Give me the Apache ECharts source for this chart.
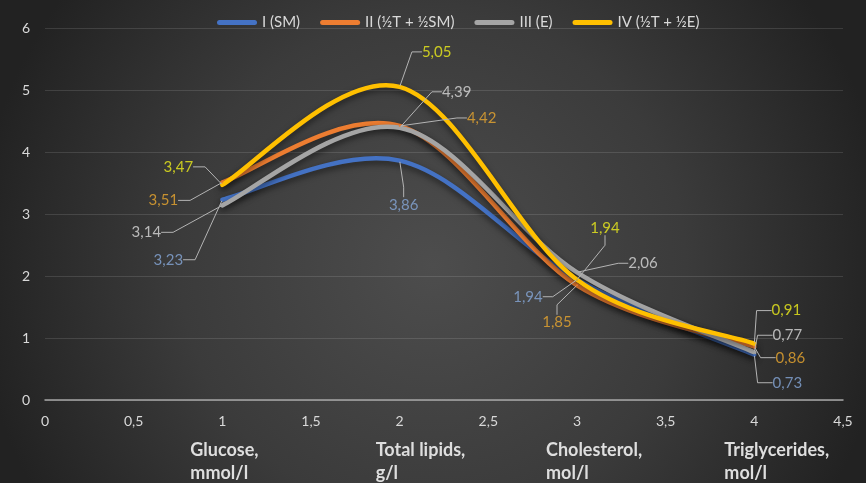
<!DOCTYPE html>
<html>
<head>
<meta charset="utf-8">
<script src="https://cdn.jsdelivr.net/npm/echarts@6/dist/echarts.min.js"></script>
<style>
  html, body { margin: 0; padding: 0; background: #2a2a2a; }
  #chart { width: 866px; height: 483px; }
</style>
</head>
<body>
<div id="chart"></div>
<script>
// Measurement points on the x axis and the indicator under each of them
const xValues = [1, 2, 3, 4];
const categoryNames = ['Glucose,\nmmol/l', 'Total lipids,\ng/l', 'Cholesterol,\nmol/l', 'Triglycerides,\nmol/l'];

// Groups
const seriesNames = ['I (SM)', 'II (½T + ½SM)', 'III (E)', 'IV (½T + ½E)'];
const valuesSM = [3.23, 3.86, 1.94, 0.73];
const valuesHalfTSM = [3.51, 4.42, 1.85, 0.86];
const valuesE = [3.14, 4.39, 2.06, 0.77];
const valuesHalfTE = [3.47, 5.05, 1.94, 0.91];

// Axis ranges
const xAxisRange = [0, 4.5];
const yAxisRange = [0, 6];

// Presentation
const lineColors = ['#4472c4', '#ed7d31', '#a5a5a5', '#ffc000'];
const labelColors = ['#86a8d8', '#eaa830', '#d9d9d9', '#eeee1c'];
const fontFamily = 'Lato, "Open Sans", sans-serif';

// Offset of each value label from its point (px): [dx, dy]
const labelOffsets = [
  [[-54, 60], [4, 44], [-49, 17], [33, 28]],
  [[-59, 18], [82, -8], [-20, 37], [36, 11]],
  [[-76, 27], [57, -36], [66, -9], [33, -17]],
  [[-44, -18], [37, -35], [28, -52], [32, -33]]
];
// Length of the horizontal leader stub next to each label, per x position
const leaderStub = [12, 10, 10, 15];
// Horizontal shift of the indicator captions relative to their tick
const captionShift = [-32, -24, -31, -30];

const seriesValues = [valuesSM, valuesHalfTSM, valuesE, valuesHalfTE];
const fmt = v => String(v).replace('.', ',');

// Smooth cubic curve through pixel points (Catmull-Rom, end points doubled)
function smoothPath(p) {
  let d = 'M' + p[0][0] + ',' + p[0][1];
  for (let i = 0; i < p.length - 1; i++) {
    const p0 = p[i - 1] || p[i];
    const p1 = p[i];
    const p2 = p[i + 1];
    const p3 = p[i + 2] || p[i + 1];
    const c1x = p1[0] + (p2[0] - p0[0]) / 6, c1y = p1[1] + (p2[1] - p0[1]) / 6;
    const c2x = p2[0] - (p3[0] - p1[0]) / 6, c2y = p2[1] - (p3[1] - p1[1]) / 6;
    d += ' C' + c1x + ',' + c1y + ' ' + c2x + ',' + c2y + ' ' + p2[0] + ',' + p2[1];
  }
  return d;
}

const chart = echarts.init(document.getElementById('chart'), null, { renderer: 'canvas' });

// Curves
const curveSeries = seriesValues.map((vals, si) => ({
  name: seriesNames[si],
  type: 'custom',
  coordinateSystem: 'cartesian2d',
  data: [[xValues[0], vals[0]]],
  itemStyle: { color: lineColors[si] },
  silent: true,
  z: 2,
  renderItem: (params, api) => {
    const pts = xValues.map((x, i) => api.coord([x, vals[i]]));
    return {
      type: 'path',
      shape: { pathData: smoothPath(pts) },
      style: {
        fill: 'none',
        stroke: lineColors[si],
        lineWidth: 4.5,
        lineCap: 'round',
        lineJoin: 'round',
        shadowColor: 'rgba(0,0,0,0.55)',
        shadowBlur: 6,
        shadowOffsetY: 3
      }
    };
  }
}));

// Value labels with leader lines
const labelSeries = seriesValues.map((vals, si) => ({
  name: seriesNames[si],
  type: 'scatter',
  data: xValues.map((x, i) => ({ value: [x, vals[i]], labelLine: { length2: leaderStub[i] } })),
  symbol: 'circle',
  symbolSize: 2,
  itemStyle: { color: lineColors[si] },
  label: {
    show: true,
    position: 'inside',
    color: labelColors[si],
    fontSize: 15,
    fontFamily: fontFamily,
    formatter: p => p.value[1].toFixed(2).replace('.', ',')
  },
  labelLine: {
    show: true,
    length2: 10,
    lineStyle: { color: '#b4b4b4', width: 1 }
  },
  labelLayout: params => {
    const off = labelOffsets[si][params.dataIndex];
    return {
      x: params.rect.x + params.rect.width / 2 + off[0],
      y: params.rect.y + params.rect.height / 2 + off[1],
      align: 'center',
      verticalAlign: 'middle'
    };
  },
  emphasis: { disabled: true },
  silent: true,
  z: 3
}));

chart.setOption({
  animation: false,
  backgroundColor: {
    type: 'radial',
    x: 0.5, y: 0.55, r: 0.95,
    colorStops: [
      { offset: 0, color: '#4d4d4d' },
      { offset: 0.55, color: '#3b3b3b' },
      { offset: 1, color: '#222222' }
    ]
  },
  grid: { left: 45, right: 23, top: 28, bottom: 83 },
  legend: {
    left: 212,
    top: 10,
    itemWidth: 40,
    itemHeight: 5,
    itemGap: 20,
    icon: 'path://M2.5,0 H37.5 A2.5,2.5 0 0 1 37.5,5 H2.5 A2.5,2.5 0 0 1 2.5,0 Z',
    textStyle: { color: '#d9d9d9', fontSize: 15, fontFamily: fontFamily },
    data: seriesNames
  },
  xAxis: {
    type: 'value',
    min: xAxisRange[0],
    max: xAxisRange[1],
    interval: 0.5,
    axisLine: { show: true, onZero: false, lineStyle: { color: '#a6a6a6', width: 1.5 } },
    axisTick: { show: false },
    splitLine: { show: false },
    axisLabel: { color: '#d9d9d9', fontSize: 14, fontFamily: fontFamily, margin: 14, formatter: fmt }
  },
  yAxis: {
    type: 'value',
    min: yAxisRange[0],
    max: yAxisRange[1],
    interval: 1,
    axisLine: { show: false },
    axisTick: { show: false },
    splitLine: { lineStyle: { color: 'rgba(255,255,255,0.12)', width: 1 } },
    axisLabel: { color: '#d9d9d9', fontSize: 14, fontFamily: fontFamily, margin: 15, formatter: fmt }
  },
  series: curveSeries.concat(labelSeries)
});

// Indicator captions under the axis, anchored to their x positions
const baseY = chart.convertToPixel({ yAxisIndex: 0 }, 0);
chart.setOption({
  graphic: categoryNames.map((name, i) => ({
    type: 'text',
    silent: true,
    x: chart.convertToPixel({ xAxisIndex: 0 }, xValues[i]) + captionShift[i],
    y: baseY + 39,
    style: {
      text: name,
      fill: '#dedede',
      font: 'bold 18px ' + fontFamily,
      lineHeight: 23,
      verticalAlign: 'top'
    }
  }))
});
</script>
</body>
</html>
